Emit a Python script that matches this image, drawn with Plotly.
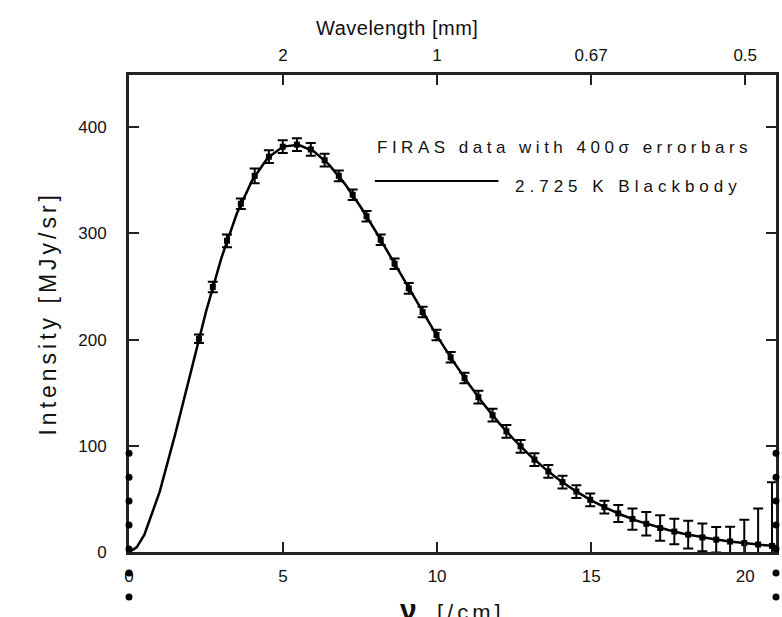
import plotly.graph_objects as go

# FIRAS data (wavenumber in 1/cm, intensity in MJy/sr, 400-sigma error in MJy/sr)
nu_data = [2.27, 2.72, 3.18, 3.63, 4.08, 4.54, 4.99, 5.45, 5.90, 6.35, 6.81, 7.26, 7.71,
           8.17, 8.62, 9.08, 9.53, 9.98, 10.44, 10.89, 11.34, 11.80, 12.25, 12.71, 13.16,
           13.61, 14.07, 14.52, 14.97, 15.43, 15.88, 16.34, 16.79, 17.24, 17.70, 18.15,
           18.61, 19.06, 19.51, 19.97, 20.42, 20.87, 21.33]
intensity = [200.7, 249.5, 293.0, 327.8, 354.1, 372.1, 381.5, 383.5, 378.9, 368.8, 354.1,
             336.3, 316.1, 293.9, 271.4, 248.2, 225.9, 204.3, 183.3, 163.8, 145.8, 128.8,
             113.6, 99.5, 87.0, 75.9, 65.8, 57.0, 49.2, 42.3, 36.4, 31.1, 26.6, 22.6, 19.3,
             16.4, 13.8, 11.7, 9.9, 8.4, 7.1, 5.8, 4.5]
err400 = [4, 5, 6, 5, 7, 6, 6, 6, 6, 6, 5, 5, 5, 5, 5, 5, 5, 5, 5, 5, 6, 6, 6, 6, 6, 6, 6,
          6, 6, 6, 8, 10, 11, 12, 12, 13, 13, 12, 14, 22, 34, 60, 100]

# 2.725 K blackbody curve
nu_bb = [0, 0.25, 0.5, 1, 1.5, 2, 2.5, 3, 3.5, 4, 4.5, 5, 5.5, 6, 6.5, 7, 7.5, 8, 8.5, 9,
         9.5, 10, 10.5, 11, 11.5, 12, 12.5, 13, 13.5, 14, 14.5, 15, 15.5, 16, 16.5, 17,
         17.5, 18, 18.5, 19, 19.5, 20, 20.5, 21]
bb = [0, 4.4, 16.4, 57.1, 111.0, 169.5, 226.3, 276.9, 318.6, 350.0, 370.9, 381.6, 383.3,
      377.1, 364.4, 346.8, 325.7, 302.2, 277.4, 252.3, 227.4, 203.3, 180.6, 159.3, 139.7,
      121.8, 105.7, 91.3, 78.5, 67.2, 57.3, 48.7, 41.3, 34.9, 29.4, 24.7, 20.7, 17.3,
      14.4, 12.0, 9.95, 8.24, 6.82, 5.63]

# tick labels
x_ticks = [0, 5, 10, 15, 20]
y_ticks = [0, 100, 200, 300, 400]
wl_ticks = [5, 10, 15, 20]
wl_labels = ["2", "1", "0.67", "0.5"]

# stray dots along the frame edges
dot_x_left = [0] * 7
dot_x_right = [21] * 7
dot_y = [93, 70.5, 48, 25.4, 2.8, -19.8, -42.3]

FONT = "Liberation Sans, Arial, Helvetica, sans-serif"
INK = "#111111"
Y_MAX = 449
Y_MIN_EXT = -47.0          # extended range of the helper axis (same scale)
MAIN_DOMAIN_BOTTOM = -Y_MIN_EXT / (Y_MAX - Y_MIN_EXT)

fig = go.Figure()

fig.add_trace(go.Scatter(x=nu_bb, y=bb, mode="lines",
                         line=dict(color="black", width=2.5), showlegend=False))
fig.add_trace(go.Scatter(x=nu_data, y=intensity, mode="markers",
                         marker=dict(symbol="square", size=6, color="black"),
                         error_y=dict(type="data", array=err400, color="black",
                                      thickness=2, width=5),
                         showlegend=False))
# dots on a helper subplot sharing the same scale but extending lower
fig.add_trace(go.Scatter(x=dot_x_left + dot_x_right, y=dot_y + dot_y, mode="markers",
                         marker=dict(size=7, color="black"), cliponaxis=False,
                         xaxis="x3", yaxis="y3",
                         showlegend=False, hoverinfo="skip"))
# dummy trace to activate top axis
fig.add_trace(go.Scatter(x=[None], y=[None], xaxis="x2", showlegend=False))

axis_common = dict(showline=True, linecolor="#222222", linewidth=3, ticks="inside",
                   ticklen=10, tickwidth=2, tickcolor="#222222", showgrid=False,
                   zeroline=False, tickfont=dict(family=FONT, size=17, color=INK))

fig.update_layout(
    width=782, height=617,
    margin=dict(l=129, r=3, t=75, b=15),
    paper_bgcolor="white", plot_bgcolor="rgba(0,0,0,0)",
    xaxis=dict(range=[0, 21], tickvals=x_ticks, ticktext=[str(v) for v in x_ticks],
               ticklabelstandoff=7, anchor="y", **axis_common),
    xaxis2=dict(range=[0, 21], overlaying="x", side="top", tickvals=wl_ticks,
                ticktext=wl_labels, ticklabelstandoff=4, anchor="y", **axis_common),
    yaxis=dict(range=[0, Y_MAX], domain=[MAIN_DOMAIN_BOTTOM, 1], tickvals=y_ticks,
               ticktext=[str(v) for v in y_ticks], mirror="ticks",
               ticklabelstandoff=16, anchor="x", **axis_common),
    xaxis3=dict(range=[0, 21], domain=[0, 1], visible=False, anchor="y3"),
    yaxis3=dict(range=[Y_MIN_EXT, Y_MAX], domain=[0, 1], visible=False, anchor="x3"),
)

fig.add_annotation(text="<span style='letter-spacing:0.5px'>Wavelength [mm]</span>",
                   xref="x domain", yref="y domain", x=0.414, y=1,
                   yanchor="middle", yshift=47, showarrow=False,
                   font=dict(family=FONT, size=20, color=INK))
fig.add_annotation(text="<span style='letter-spacing:4px'>Intensity [MJy/sr]</span>",
                   xref="x domain", yref="y domain", x=0, y=0.5,
                   xshift=-96, textangle=-90, showarrow=False,
                   font=dict(family=FONT, size=23, color=INK))
fig.add_annotation(text="<span style='font-size:30px'><b>ν</b></span>"
                        "<span style='letter-spacing:4px'>  [/cm]</span>",
                   xref="x domain", yref="y domain", x=0.5, y=0, yanchor="top",
                   yshift=-39, showarrow=False,
                   font=dict(family=FONT, size=22, color=INK))

# legend
fig.add_annotation(text="<span style='letter-spacing:4.5px'>FIRAS data with 400σ errorbars</span>",
                   xref="x domain", yref="y domain",
                   x=0.38, y=0.847, xanchor="left", yanchor="middle", showarrow=False,
                   font=dict(family=FONT, size=17, color=INK))
fig.add_annotation(text="<span style='letter-spacing:5px'>2.725 K Blackbody</span>",
                   xref="x domain", yref="y domain",
                   x=0.594, y=0.767, xanchor="left", yanchor="middle", showarrow=False,
                   font=dict(family=FONT, size=17, color=INK))
fig.add_shape(type="line", xref="x domain", yref="y domain", x0=0.38, x1=0.571,
              y0=0.778, y1=0.778, line=dict(color="black", width=2))

fig.write_html("out.html")
